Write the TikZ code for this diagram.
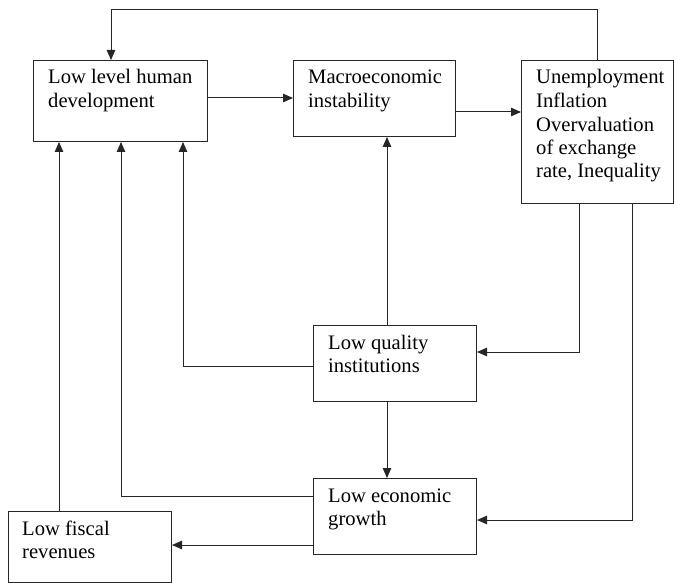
\documentclass[tikz,border=0pt]{standalone}
\usepackage{fontspec}
\setmainfont{Liberation Serif}
\usetikzlibrary{arrows.meta,calc}
\begin{document}
\begin{tikzpicture}[x=1pt,y=-1pt,
  box/.style={draw=black!85,line width=1pt,rectangle,inner sep=0pt,anchor=north west},
  txt/.style={inner sep=0pt,anchor=base west,align=left,font=\fontsize{20.6}{23.5}\selectfont},
  arr/.style={draw=black!85,line width=1pt,-{Triangle[length=10pt,width=8.5pt]}}]
\useasboundingbox (0,0) rectangle (675,583);
\fill[white] (0,0) rectangle (675,583);
% boxes
\node[box,minimum width=174pt,minimum height=81pt] (hd) at (33,60) {};
\node[box,minimum width=162pt,minimum height=76pt] (mi) at (293,60) {};
\node[box,minimum width=152pt,minimum height=143pt] (un) at (521,60) {};
\node[box,minimum width=163pt,minimum height=76pt] (qi) at (313,325) {};
\node[box,minimum width=163pt,minimum height=76pt] (eg) at (313,478) {};
\node[box,minimum width=163pt,minimum height=71pt] (fr) at (8,511) {};
% texts (base anchor = baseline of the last line)
\node[txt] (thd) at (48,107.5) {Low level human\\development};
\node[txt] (tmi) at (308,107.5) {Macroeconomic\\instability};
\node[txt] (tun) at (536,178) {Unemployment\\Inflation\\Overvaluation\\of exchange\\rate, Inequality};
\node[txt] (tqi) at (328,372.5) {Low quality\\institutions};
\node[txt] (teg) at (328,525.5) {Low economic\\growth};
\node[txt] (tfr) at (22,558.5) {Low fiscal\\revenues};
% connectors
\draw[arr] (un.north -| 597,0) |- (111,10) -- (hd.north -| 111,0);
\draw[arr] (hd.east |- 0,98) -- (mi.west |- 0,98);
\draw[arr] (mi.east |- 0,112) -- (un.west |- 0,112);
\draw[arr] (qi.north -| 387,0) -- (mi.south -| 387,0);
\draw[arr] (qi.west |- 0,366) -| (hd.south -| 183,0);
\draw[arr] (eg.west |- 0,496) -| (hd.south -| 121,0);
\draw[arr] (fr.north -| 59,0) -- (hd.south -| 59,0);
\draw[arr] (qi.south -| 387,0) -- (eg.north -| 387,0);
\draw[arr] (un.south -| 579,0) |- (qi.east |- 0,352);
\draw[arr] (un.south -| 632,0) |- (eg.east |- 0,520);
\draw[arr] (eg.west |- 0,545) -- (fr.east |- 0,545);
\end{tikzpicture}
\end{document}
